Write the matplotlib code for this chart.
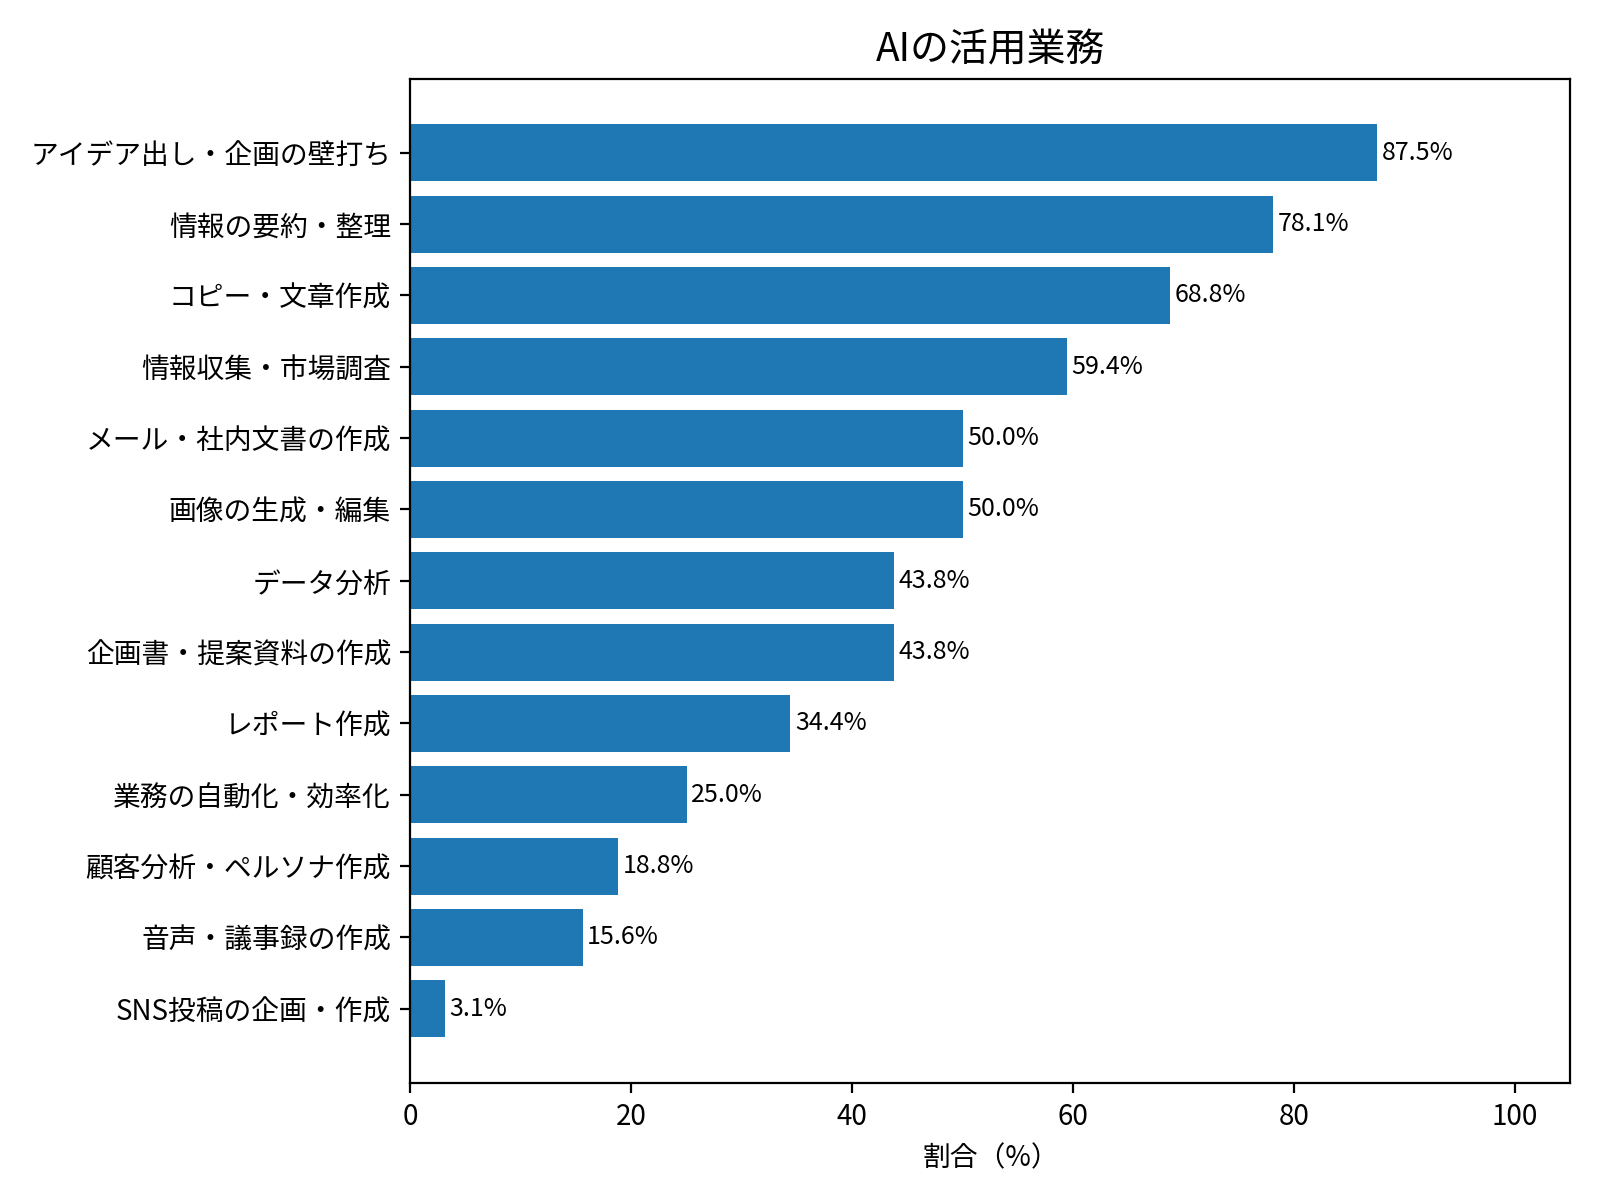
import matplotlib
matplotlib.use("Agg")
from matplotlib import pyplot as plt

plt.rcParams['font.family'] = ['Noto Sans CJK JP', 'DejaVu Sans']

tasks = [
    'アイデア出し・企画の壁打ち',
    '情報の要約・整理',
    'コピー・文章作成',
    '情報収集・市場調査',
    'メール・社内文書の作成',
    '画像の生成・編集',
    'データ分析',
    '企画書・提案資料の作成',
    'レポート作成',
    '業務の自動化・効率化',
    '顧客分析・ペルソナ作成',
    '音声・議事録の作成',
    'SNS投稿の企画・作成',
]
ratios = [87.5, 78.1, 68.8, 59.4, 50.0, 50.0, 43.8, 43.8, 34.4, 25.0, 18.8, 15.6, 3.1]

fig, ax = plt.subplots(figsize=(8, 6), dpi=200)
fig.subplots_adjust(left=0.2565, right=0.9815, top=0.9345, bottom=0.0975)

bars = ax.barh(tasks[::-1], ratios[::-1], color='#1f77b4')
for b, v in zip(bars, ratios[::-1]):
    ax.text(b.get_width() + 0.4, b.get_y() + b.get_height() / 2, f'{v:.1f}%',
            va='center', ha='left', fontsize=9)

ax.set_xlim(0, 105)
ax.set_title('AIの活用業務', fontsize=14)
ax.set_xlabel('割合（%）')

fig.savefig('out.png')
